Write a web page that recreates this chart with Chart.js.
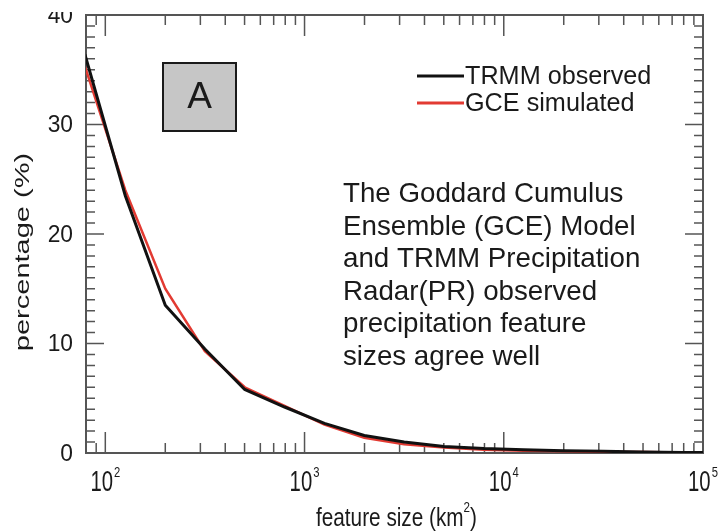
<!DOCTYPE html>
<html>
<head>
<meta charset="utf-8">
<script src="https://cdn.jsdelivr.net/npm/chart.js@4.4.1/dist/chart.umd.min.js"></script>
<style>
  body { margin: 0; background: #fff; }
  #wrap { width: 721px; height: 531px; }
</style>
</head>
<body>
<div id="wrap"><canvas id="featureChart" width="721" height="531"></canvas></div>
<script>
// feature size bins (km^2)
const sizes = [79, 126, 200, 316, 501, 794, 1259, 1995, 3162, 5012, 7943, 12589, 19953, 31623, 50119, 79433, 100000];
const trmm = [36.4, 23.5, 13.5, 9.5, 5.8, 4.2, 2.7, 1.6, 1.0, 0.6, 0.4, 0.3, 0.2, 0.15, 0.1, 0.05, 0.05];
const gce = [35.3, 24.0, 15.0, 9.3, 6.0, 4.3, 2.6, 1.4, 0.8, 0.5, 0.3, 0.2, 0.15, 0.1, 0.08, 0.05, 0.05];
const yTicks = [0, 10, 20, 30, 40];
const xDecades = [2, 3, 4, 5];
const seriesNames = ["TRMM observed", "GCE simulated"];
const noteLines = ["The Goddard Cumulus", "Ensemble (GCE) Model", "and TRMM Precipitation",
  "Radar(PR) observed", "precipitation feature", "sizes agree well"];

const FONT = "'Liberation Sans', Arial, Helvetica, sans-serif";
const INK = "#1a1a1a";

function pts(vals) {
  return sizes.map((s, i) => ({ x: s, y: vals[i] }));
}

// text squeezed or stretched along its own x direction
function sText(ctx, str, x, y, sx, align) {
  ctx.save();
  ctx.translate(x, y);
  ctx.scale(sx, 1);
  ctx.textAlign = align || "left";
  ctx.fillText(str, 0, 0);
  ctx.restore();
}

const framePlugin = {
  id: "frame",
  beforeDatasetsDraw(chart) {
    const ctx = chart.ctx;
    const a = chart.chartArea;
    const xs = chart.scales.x;
    const ys = chart.scales.y;
    ctx.save();
    ctx.strokeStyle = "#555";
    ctx.lineWidth = 1.5;
    // y ticks, every 1 %
    for (let v = 0; v <= 40; v++) {
      const py = ys.getPixelForValue(v);
      const len = v % 10 === 0 ? 18 : 9;
      ctx.beginPath();
      ctx.moveTo(a.left, py); ctx.lineTo(a.left + len, py);
      ctx.moveTo(a.right, py); ctx.lineTo(a.right - len, py);
      ctx.stroke();
    }
    // x ticks, log
    for (let d = 1; d <= 5; d++) {
      for (let m = 1; m <= 9; m++) {
        const v = m * Math.pow(10, d);
        if (v < xs.min || v > xs.max) continue;
        const px = xs.getPixelForValue(v);
        const len = m === 1 ? 21 : 10;
        ctx.beginPath();
        ctx.moveTo(px, a.bottom); ctx.lineTo(px, a.bottom - len);
        ctx.moveTo(px, a.top); ctx.lineTo(px, a.top + len);
        ctx.stroke();
      }
    }
    ctx.lineWidth = 2;
    ctx.strokeRect(a.left, a.top, a.right - a.left, a.bottom - a.top);
    ctx.restore();
  },
  afterDraw(chart) {
    const ctx = chart.ctx;
    const a = chart.chartArea;
    const xs = chart.scales.x;
    const ys = chart.scales.y;
    ctx.save();
    ctx.fillStyle = INK;

    // y tick labels
    ctx.font = "24px " + FONT;
    ctx.textBaseline = "middle";
    yTicks.forEach(v => {
      const py = ys.getPixelForValue(v);
      ctx.save();
      if (v === 40) { ctx.beginPath(); ctx.rect(0, 12, 86, 40); ctx.clip(); }
      sText(ctx, String(v), 73, py + 1, 0.95, "right");
      ctx.restore();
    });

    // x tick labels 10^n
    ctx.textBaseline = "alphabetic";
    xDecades.forEach(d => {
      const px = xs.getPixelForValue(Math.pow(10, d));
      ctx.font = "29px " + FONT;
      const wb = ctx.measureText("10").width * 0.7;
      ctx.font = "15px " + FONT;
      const we = ctx.measureText(String(d)).width * 0.75;
      const x0 = px - (wb + we + 1) / 2;
      ctx.font = "29px " + FONT;
      sText(ctx, "10", x0, 491, 0.7);
      ctx.font = "15px " + FONT;
      sText(ctx, String(d), x0 + wb + 1, 477, 0.75);
    });

    // x axis title
    ctx.font = "25px " + FONT;
    const t1 = "feature size (km";
    const sx = 0.83;
    const w1 = ctx.measureText(t1).width * sx;
    ctx.font = "14px " + FONT;
    const w2 = ctx.measureText("2").width * sx;
    ctx.font = "25px " + FONT;
    const w3 = ctx.measureText(")").width * sx;
    const cx = (a.left + a.right) / 2 + 2;
    const xStart = cx - (w1 + w2 + w3) / 2;
    sText(ctx, t1, xStart, 526, sx);
    ctx.font = "14px " + FONT;
    sText(ctx, "2", xStart + w1, 512, sx);
    ctx.font = "25px " + FONT;
    sText(ctx, ")", xStart + w1 + w2, 526, sx);

    // y axis title
    ctx.save();
    ctx.translate(29, 252);
    ctx.rotate(-Math.PI / 2);
    ctx.font = "20px " + FONT;
    sText(ctx, "percentage (%)", 0, 0, 1.45, "center");
    ctx.restore();

    // panel label box
    ctx.fillStyle = "#c6c6c6";
    ctx.fillRect(163, 63, 73, 68);
    ctx.strokeStyle = INK;
    ctx.lineWidth = 2;
    ctx.strokeRect(163, 63, 73, 68);
    ctx.fillStyle = INK;
    ctx.font = "37px " + FONT;
    ctx.textBaseline = "middle";
    sText(ctx, "A", 199.5, 98, 1, "center");

    // legend
    const legColors = ["#111", "#e23a32"];
    const legY = [76, 103];
    seriesNames.forEach((name, i) => {
      ctx.strokeStyle = legColors[i];
      ctx.lineWidth = 3;
      ctx.beginPath();
      ctx.moveTo(417, legY[i]); ctx.lineTo(464, legY[i]);
      ctx.stroke();
      ctx.font = "26px " + FONT;
      ctx.fillStyle = INK;
      ctx.textBaseline = "middle";
      sText(ctx, name, 465, legY[i] + 1, 0.97);
    });

    // note text
    ctx.font = "28px " + FONT;
    ctx.textBaseline = "alphabetic";
    noteLines.forEach((line, i) => {
      sText(ctx, line, 343, 202 + i * 32.6, 0.99);
    });
    ctx.restore();
  }
};

new Chart(document.getElementById("featureChart"), {
  type: "line",
  data: {
    datasets: [{
      label: seriesNames[0],
      data: pts(trmm),
      borderColor: "#111",
      borderWidth: 3,
      pointRadius: 0,
      tension: 0
    }, {
      label: seriesNames[1],
      data: pts(gce),
      borderColor: "#e23a32",
      borderWidth: 2.5,
      pointRadius: 0,
      tension: 0
    }]
  },
  options: {
    responsive: false,
    animation: false,
    layout: { padding: { left: 86, top: 15, right: 18, bottom: 78 } },
    plugins: { legend: { display: false }, tooltip: { enabled: false } },
    scales: {
      x: { type: "logarithmic", min: 80, max: 100000, display: false },
      y: { type: "linear", min: 0, max: 40, display: false }
    }
  },
  plugins: [framePlugin]
});
</script>
</body>
</html>
